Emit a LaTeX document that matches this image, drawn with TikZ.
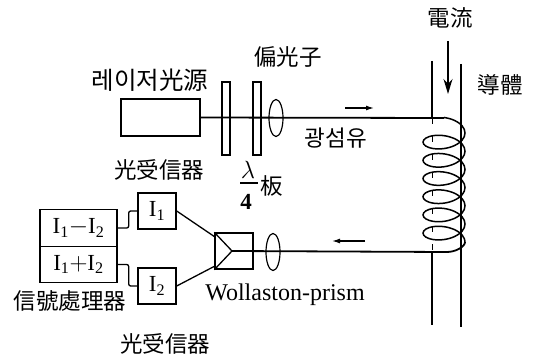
\documentclass[tikz,border=0pt]{standalone}
\usepackage{fontspec}
\usetikzlibrary{shapes.geometric,arrows.meta}
\setmainfont{Liberation Serif}
\newfontfamily\cjk{Noto Sans CJK KR}
\tikzset{
  box/.style={draw,line width=1.4pt,inner sep=0pt,font=\fontsize{23}{23}\selectfont},
  plate/.style={draw,line width=1.2pt,inner sep=0pt,minimum width=8pt,minimum height=73pt},
  lens/.style={draw,ellipse,line width=1.2pt,inner sep=0pt,minimum width=14pt,minimum height=37pt},
  lab/.style={inner sep=0pt,font=\cjk\fontsize{22.5}{22.5}\selectfont},
  num/.style={inner sep=0pt,font=\bfseries\fontsize{23}{23}\selectfont},
  wire/.style={line width=1.3pt},
  fiber/.style={line width=1.8pt},
  small arrow/.style={line width=1.3pt,-{Latex[length=8pt,width=5pt]}}
}
\begin{document}
\begin{tikzpicture}[x=1pt,y=-1pt]
\useasboundingbox (0,0) rectangle (535,361);
% optics
\node[box,minimum width=79pt,minimum height=37pt] (laser) at (160.5,117.5) {};
\node[plate] (p1) at (226,118.5) {};
\node[plate] (p2) at (257,118.5) {};
\node[lens] (l1) at (276,118) {};
\node[lens] (l2) at (273,252) {};
\coordinate (coiltop) at (444,118);
\coordinate (coilbot) at (447,252);
\draw[fiber] (laser.east) -- (coiltop);
% prism
\node[box,minimum width=38pt,minimum height=36pt] (prism) at (234,251) {};
\coordinate (apex) at (232,251);
\draw[wire] (prism.north west) -- (apex) -- (prism.south west);
\draw[fiber] (apex) -- (coilbot);
% detectors and processor
\node[box,minimum width=38pt,minimum height=36pt] (i1) at (157,211) {I\textsubscript{1}};
\node[box,minimum width=38pt,minimum height=36pt] (i2) at (157,286) {I\textsubscript{2}};
\node[box,minimum width=77pt,minimum height=36.5pt] (diff) at (78.5,228) {I\textsubscript{1}$-$I\textsubscript{2}};
\node[box,minimum width=77pt,minimum height=36.5pt] (sum) at (78.5,264.5) {I\textsubscript{1}$+$I\textsubscript{2}};
\coordinate (pa) at (215,237);
\coordinate (pb) at (215,266);
\draw[wire] (i1.east) -- (pa);
\draw[wire] (i2.east) -- (pb);
\draw[wire,rounded corners=2pt] (diff.east) -- ++(11,0) |- (i1.west);
\draw[wire,rounded corners=2pt] (sum.east) -- ++(11,0) |- (i2.west);
% conductor
\coordinate (c1a) at (432,61);
\coordinate (c1b) at (432,118);
\coordinate (c1c) at (432,252);
\coordinate (c1d) at (432,325);
\coordinate (c2a) at (461,64);
\coordinate (c2b) at (461,327);
\draw[wire] (c1a) -- (c1b);
\draw[line width=1pt,dash pattern=on 6pt off 12pt] (c1b) -- (c1c);
\draw[wire] (c1c) -- (c1d);
\draw[wire] (c2a) -- (c2b);
% coil
\draw[line width=1.5pt,smooth] plot[domain=-90:2160,samples=151,variable=\t]
  ({444+21*cos(\t)},{133+\t/360*18.2+11*sin(\t)});
\draw[fiber] (465,242) .. controls (465,247) and (455,252) .. (coilbot);
% arrows
\coordinate (cur1) at (448,41);
\coordinate (cur2) at (448,94);
\draw[line width=1.4pt,-{Stealth[length=15pt,width=9pt]}] (cur1) -- (cur2);
\coordinate (a1) at (345,108);
\coordinate (a2) at (374,108);
\draw[small arrow] (a1) -- (a2);
\coordinate (b1) at (365,241);
\coordinate (b2) at (332,241);
\draw[small arrow] (b1) -- (b2);
% labels
\node[lab] (tcur) at (450,18) {電流};
\node[lab] (tcond) at (500,85) {導體};
\node[lab] (tpol) at (288,57) {偏光子};
\node[lab,font=\cjk\fontsize{24.5}{24.5}\selectfont] (tlaser) at (150,80) {레이저光源};
\node[lab] (tfib) at (336,138) {광섬유};
\node[lab] (trx1) at (159,170) {光受信器};
\node[lab] (trx2) at (165,344) {光受信器};
\node[lab] (tproc) at (70,301) {信號處理器};
\node[lab] (tban) at (272,186) {板};
\node[num] (tlam) at (248,170) {$\lambda$};
\node[num] (tfour) at (246,202) {4};
\coordinate (f1) at (240,183);
\coordinate (f2) at (258,183);
\draw[wire] (f1) -- (f2);
\node[inner sep=0pt,font=\fontsize{24}{24}\selectfont] (twol) at (285,295) {Wollaston-prism};
\end{tikzpicture}
\end{document}
